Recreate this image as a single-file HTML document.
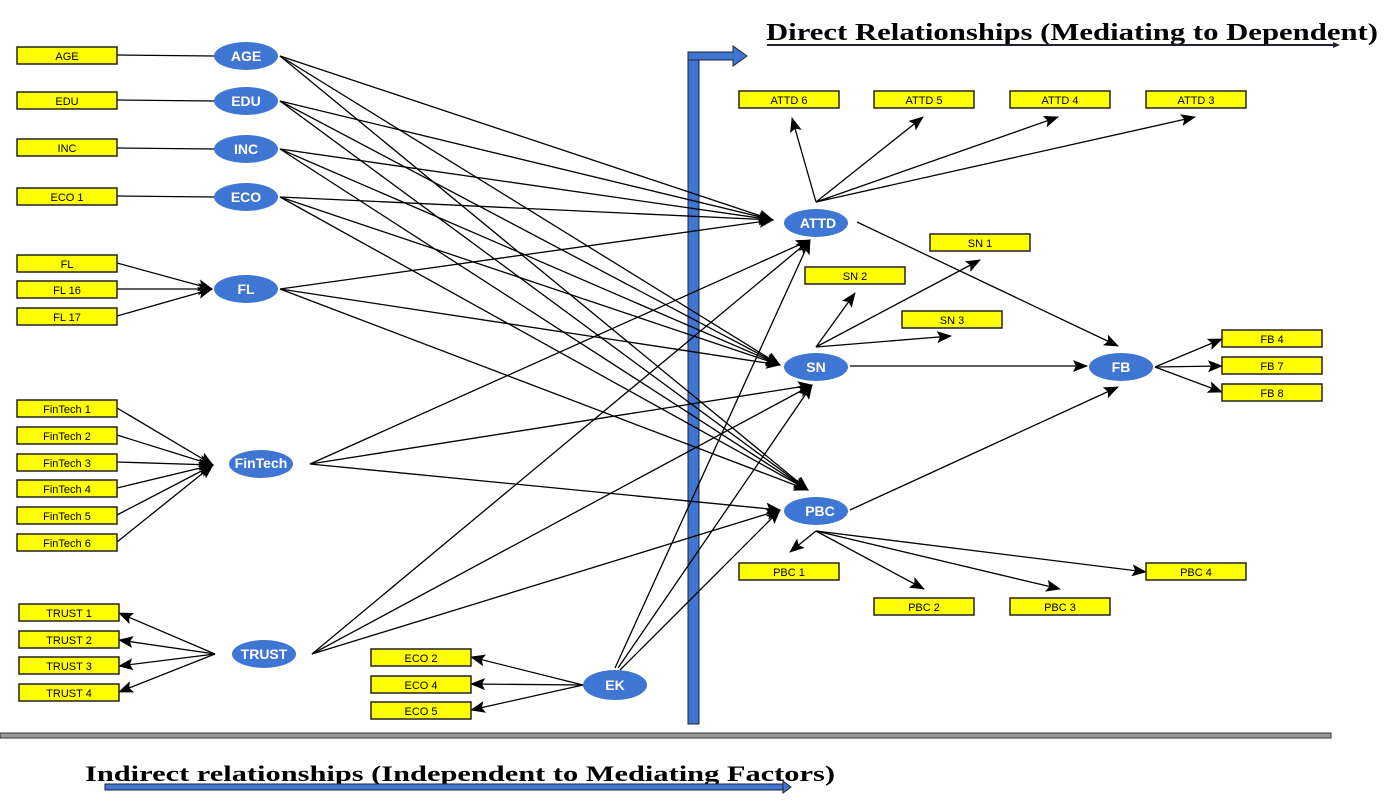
<!DOCTYPE html>
<html><head><meta charset="utf-8"><style>
html,body{margin:0;padding:0;background:#fff}
svg{display:block}
.b{fill:#ffff00;stroke:#222;stroke-width:1.5}
.bt{font-family:"Liberation Sans",sans-serif;font-size:11px;fill:#000;text-anchor:middle}
.e{fill:#3f76d4}
.et{font-family:"Liberation Sans",sans-serif;font-size:14px;font-weight:bold;fill:#fff;text-anchor:middle}
.l{stroke:#000;stroke-width:1.3;fill:none}
.a{stroke:#000;stroke-width:1.3;fill:none;marker-end:url(#ah)}
.t{font-family:"Liberation Serif",serif;font-weight:bold;fill:#000}
</style></head><body>
<svg width="1393" height="806" viewBox="0 0 1393 806" xmlns="http://www.w3.org/2000/svg">
<defs><marker id="ah" markerWidth="15" markerHeight="12" refX="14" refY="6" orient="auto" markerUnits="userSpaceOnUse"><path d="M0,0 L15,6 L0,12 L3,6 Z" fill="#000"/></marker></defs>

<text class="t" x="766" y="40" font-size="24" textLength="612" lengthAdjust="spacingAndGlyphs">Direct Relationships (Mediating to Dependent)</text>
<line x1="767" y1="45" x2="1335" y2="45" stroke="#223" stroke-width="2"/>
<path d="M1333,42 L1340,45 L1333,48 Z" fill="#223"/>
<text class="t" x="85" y="781" font-size="22" textLength="750" lengthAdjust="spacingAndGlyphs">Indirect relationships (Independent to Mediating Factors)</text>
<rect x="105" y="784" width="680" height="6" fill="#3f76d4" stroke="#223" stroke-width="1"/>
<path d="M783,781 L791,787 L783,793 Z" fill="#3f76d4" stroke="#223"/>
<rect x="0" y="733" width="1331" height="5" fill="#999" stroke="#333" stroke-width="1"/>

<rect x="688" y="56" width="11" height="668" fill="#3f76d4" stroke="#223" stroke-width="1"/>
<path d="M688,52 L733,52 L733,46 L747,56 L733,66 L733,60 L688,60 Z" fill="#3f76d4" stroke="#223" stroke-width="1"/>

<line class="l" x1="117" y1="55" x2="214" y2="56"/>
<line class="l" x1="117" y1="100" x2="214" y2="101"/>
<line class="l" x1="117" y1="148" x2="214" y2="149"/>
<line class="l" x1="117" y1="196" x2="214" y2="197"/>
<line class="a" x1="117" y1="263" x2="212" y2="289"/>
<line class="a" x1="117" y1="289" x2="212" y2="289"/>
<line class="a" x1="117" y1="316" x2="212" y2="289"/>
<line class="a" x1="117" y1="408" x2="213" y2="465"/>
<line class="a" x1="117" y1="435" x2="213" y2="465"/>
<line class="a" x1="117" y1="462" x2="213" y2="465"/>
<line class="a" x1="117" y1="488" x2="213" y2="465"/>
<line class="a" x1="117" y1="515" x2="213" y2="465"/>
<line class="a" x1="117" y1="542" x2="213" y2="465"/>
<line class="a" x1="215" y1="654" x2="119" y2="613"/>
<line class="a" x1="215" y1="654" x2="119" y2="640"/>
<line class="a" x1="215" y1="654" x2="119" y2="666"/>
<line class="a" x1="215" y1="654" x2="119" y2="692"/>
<line class="a" x1="583" y1="685" x2="471" y2="657"/>
<line class="a" x1="583" y1="685" x2="471" y2="684"/>
<line class="a" x1="583" y1="685" x2="471" y2="710"/>

<g>
<line class="a" x1="280" y1="56" x2="773" y2="220"/>
<line class="a" x1="280" y1="56" x2="780" y2="365"/>
<line class="a" x1="280" y1="56" x2="808" y2="490"/>
<line class="a" x1="280" y1="101" x2="773" y2="220"/>
<line class="a" x1="280" y1="101" x2="780" y2="365"/>
<line class="a" x1="280" y1="101" x2="808" y2="490"/>
<line class="a" x1="280" y1="149" x2="773" y2="220"/>
<line class="a" x1="280" y1="149" x2="780" y2="365"/>
<line class="a" x1="280" y1="149" x2="808" y2="490"/>
<line class="a" x1="280" y1="197" x2="773" y2="220"/>
<line class="a" x1="280" y1="197" x2="780" y2="365"/>
<line class="a" x1="280" y1="197" x2="808" y2="490"/>
<line class="a" x1="280" y1="289" x2="773" y2="220"/>
<line class="a" x1="280" y1="289" x2="780" y2="365"/>
<line class="a" x1="280" y1="289" x2="808" y2="490"/>
<line class="a" x1="310" y1="464" x2="810" y2="240"/>
<line class="a" x1="310" y1="464" x2="812" y2="385"/>
<line class="a" x1="310" y1="464" x2="780" y2="510"/>
<line class="a" x1="312" y1="654" x2="810" y2="240"/>
<line class="a" x1="312" y1="654" x2="812" y2="385"/>
<line class="a" x1="312" y1="654" x2="780" y2="510"/>
<line class="a" x1="615" y1="668" x2="810" y2="240"/>
<line class="a" x1="618" y1="668" x2="812" y2="385"/>
<line class="a" x1="620" y1="670" x2="780" y2="510"/>
</g>
<line class="a" x1="816" y1="202" x2="792" y2="118"/>
<line class="a" x1="816" y1="202" x2="923" y2="117"/>
<line class="a" x1="816" y1="202" x2="1058" y2="117"/>
<line class="a" x1="816" y1="202" x2="1195" y2="117"/>
<line class="a" x1="857" y1="222" x2="1118" y2="346"/>
<line class="a" x1="816" y1="347" x2="855" y2="293"/>
<line class="a" x1="816" y1="347" x2="980" y2="260"/>
<line class="a" x1="816" y1="347" x2="951" y2="336"/>
<line class="a" x1="850" y1="366" x2="1087" y2="366"/>
<line class="a" x1="850" y1="510" x2="1118" y2="387"/>
<line class="a" x1="1155" y1="367" x2="1222" y2="339"/>
<line class="a" x1="1155" y1="367" x2="1222" y2="366"/>
<line class="a" x1="1155" y1="367" x2="1222" y2="392"/>
<line class="a" x1="816" y1="531" x2="790" y2="552"/>
<line class="a" x1="816" y1="531" x2="924" y2="589"/>
<line class="a" x1="816" y1="531" x2="1060" y2="589"/>
<line class="a" x1="816" y1="531" x2="1146" y2="572"/>

<ellipse class="e" cx="246" cy="56" rx="32" ry="14"/><text class="et" x="246" y="61">AGE</text>
<ellipse class="e" cx="246" cy="101" rx="32" ry="14"/><text class="et" x="246" y="106">EDU</text>
<ellipse class="e" cx="246" cy="149" rx="32" ry="14"/><text class="et" x="246" y="154">INC</text>
<ellipse class="e" cx="246" cy="197" rx="32" ry="14"/><text class="et" x="246" y="202">ECO</text>
<ellipse class="e" cx="246" cy="289" rx="32" ry="14"/><text class="et" x="246" y="294">FL</text>
<ellipse class="e" cx="261" cy="464" rx="32" ry="14"/><text class="et" x="261" y="468" font-size="13">FinTech</text>
<ellipse class="e" cx="264" cy="654" rx="32" ry="14"/><text class="et" x="264" y="659" font-size="13">TRUST</text>
<ellipse class="e" cx="615" cy="685" rx="32" ry="15"/><text class="et" x="615" y="690">EK</text>
<ellipse class="e" cx="816" cy="223" rx="32" ry="14"/><text class="et" x="818" y="228">ATTD</text>
<ellipse class="e" cx="816" cy="367" rx="32" ry="14"/><text class="et" x="816" y="372">SN</text>
<ellipse class="e" cx="816" cy="511" rx="32" ry="14"/><text class="et" x="820" y="516">PBC</text>
<ellipse class="e" cx="1121" cy="367" rx="32" ry="14"/><text class="et" x="1121" y="372">FB</text>

<g>
<rect class="b" x="17" y="47" width="100" height="17"/><text class="bt" x="67" y="60">AGE</text>
<rect class="b" x="17" y="92" width="100" height="17"/><text class="bt" x="67" y="105">EDU</text>
<rect class="b" x="17" y="139" width="100" height="17"/><text class="bt" x="67" y="152">INC</text>
<rect class="b" x="17" y="188" width="100" height="17"/><text class="bt" x="67" y="201">ECO 1</text>
<rect class="b" x="17" y="255" width="100" height="17"/><text class="bt" x="67" y="268">FL</text>
<rect class="b" x="17" y="281" width="100" height="17"/><text class="bt" x="67" y="294">FL 16</text>
<rect class="b" x="17" y="308" width="100" height="17"/><text class="bt" x="67" y="321">FL 17</text>
<rect class="b" x="17" y="400" width="100" height="17"/><text class="bt" x="67" y="413">FinTech 1</text>
<rect class="b" x="17" y="427" width="100" height="17"/><text class="bt" x="67" y="440">FinTech 2</text>
<rect class="b" x="17" y="454" width="100" height="17"/><text class="bt" x="67" y="467">FinTech 3</text>
<rect class="b" x="17" y="480" width="100" height="17"/><text class="bt" x="67" y="493">FinTech 4</text>
<rect class="b" x="17" y="507" width="100" height="17"/><text class="bt" x="67" y="520">FinTech 5</text>
<rect class="b" x="17" y="534" width="100" height="17"/><text class="bt" x="67" y="547">FinTech 6</text>
<rect class="b" x="19" y="604" width="100" height="17"/><text class="bt" x="69" y="617">TRUST 1</text>
<rect class="b" x="19" y="631" width="100" height="17"/><text class="bt" x="69" y="644">TRUST 2</text>
<rect class="b" x="19" y="657" width="100" height="17"/><text class="bt" x="69" y="670">TRUST 3</text>
<rect class="b" x="19" y="684" width="100" height="17"/><text class="bt" x="69" y="697">TRUST 4</text>
<rect class="b" x="371" y="649" width="100" height="17"/><text class="bt" x="421" y="662">ECO 2</text>
<rect class="b" x="371" y="676" width="100" height="17"/><text class="bt" x="421" y="689">ECO 4</text>
<rect class="b" x="371" y="702" width="100" height="17"/><text class="bt" x="421" y="715">ECO 5</text>
<rect class="b" x="739" y="91" width="100" height="17"/><text class="bt" x="789" y="104">ATTD 6</text>
<rect class="b" x="874" y="91" width="100" height="17"/><text class="bt" x="924" y="104">ATTD 5</text>
<rect class="b" x="1010" y="91" width="100" height="17"/><text class="bt" x="1060" y="104">ATTD 4</text>
<rect class="b" x="1146" y="91" width="100" height="17"/><text class="bt" x="1196" y="104">ATTD 3</text>
<rect class="b" x="930" y="234" width="100" height="17"/><text class="bt" x="980" y="247">SN 1</text>
<rect class="b" x="805" y="267" width="100" height="17"/><text class="bt" x="855" y="280">SN 2</text>
<rect class="b" x="902" y="311" width="100" height="17"/><text class="bt" x="952" y="324">SN 3</text>
<rect class="b" x="1222" y="330" width="100" height="17"/><text class="bt" x="1272" y="343">FB 4</text>
<rect class="b" x="1222" y="357" width="100" height="17"/><text class="bt" x="1272" y="370">FB 7</text>
<rect class="b" x="1222" y="384" width="100" height="17"/><text class="bt" x="1272" y="397">FB 8</text>
<rect class="b" x="739" y="563" width="100" height="17"/><text class="bt" x="789" y="576">PBC 1</text>
<rect class="b" x="874" y="598" width="100" height="17"/><text class="bt" x="924" y="611">PBC 2</text>
<rect class="b" x="1010" y="598" width="100" height="17"/><text class="bt" x="1060" y="611">PBC 3</text>
<rect class="b" x="1146" y="563" width="100" height="17"/><text class="bt" x="1196" y="576">PBC 4</text>
</g>
</svg>
</body></html>
